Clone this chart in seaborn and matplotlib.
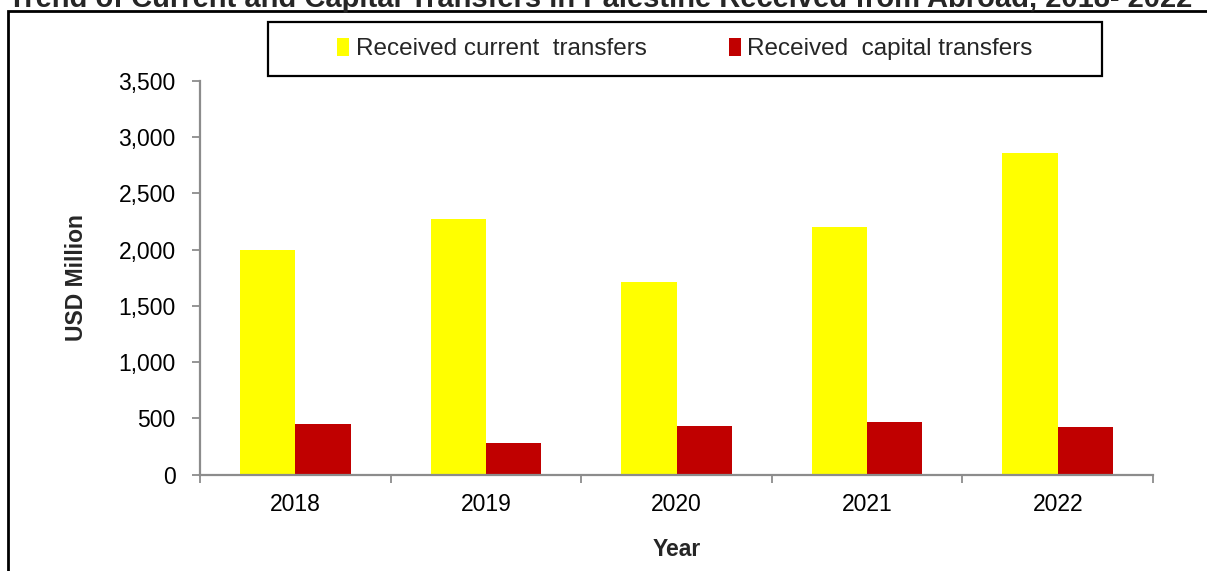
import matplotlib
matplotlib.use("Agg")
import matplotlib.pyplot as plt
from matplotlib.patches import Rectangle, Patch
from matplotlib.ticker import FuncFormatter, FixedLocator
import seaborn as sns
import pandas as pd

years = ["2018", "2019", "2020", "2021", "2022"]
current_transfers = [2000, 2270, 1710, 2200, 2855]
capital_transfers = [450, 284, 432, 468, 421]
series_names = ["Received current  transfers", "Received  capital transfers"]
series_colors = ["#FFFF00", "#C00000"]
title_text = "Trend of Current and Capital Transfers in Palestine Received from Abroad, 2018- 2022"

df = pd.DataFrame({
    "Year": years * 2,
    "Value": current_transfers + capital_transfers,
    "Series": [series_names[0]] * len(years) + [series_names[1]] * len(years),
})

sns.set_theme(style="white")
plt.rcParams["font.family"] = ["Liberation Sans", "DejaVu Sans"]

fig = plt.figure(figsize=(12.07, 5.71), dpi=100)
W, H = 1207, 571
ax = fig.add_axes([200 / W, 1 - 474.7 / H, 953 / W, 394 / H])

sns.barplot(data=df, x="Year", y="Value", hue="Series", hue_order=series_names,
            palette=series_colors, width=0.58, saturation=1, ax=ax, legend=False,
            edgecolor="none", linewidth=0)

ax.set_ylim(0, 3500)
ax.set_xlim(-0.5, len(years) - 0.5)
ax.set_yticks(range(0, 3501, 500))
ax.yaxis.set_major_formatter(FuncFormatter(lambda v, p: f"{int(v):,}"))

grey = "#8C8C8C"
for side in ["top", "right"]:
    ax.spines[side].set_visible(False)
for side in ["left", "bottom"]:
    ax.spines[side].set_color(grey)
    ax.spines[side].set_linewidth(1.6)

ax.tick_params(axis="y", which="major", direction="out", length=5.5, width=1.3,
               color=grey, labelsize=16.5, pad=12, left=True, labelcolor="black")
ax.tick_params(axis="x", which="major", length=0, labelsize=16.5, pad=13, labelcolor="black")
ax.xaxis.set_minor_locator(FixedLocator([i - 0.5 for i in range(len(years) + 1)]))
ax.tick_params(axis="x", which="minor", direction="out", length=5.5, width=1.3,
               color=grey, bottom=True)

ax.set_xlabel("Year", fontsize=16.5, fontweight="bold", labelpad=16)
ax.set_ylabel("USD Million", fontsize=16.5, fontweight="bold", labelpad=22)

# Legend inside a framed box along the top
fig.add_artist(Rectangle((268 / W, 1 - 76 / H), (1102 - 268) / W, (76 - 22) / H,
                         transform=fig.transFigure, facecolor="white",
                         edgecolor="black", linewidth=1.6, zorder=5))
handles = [Patch(facecolor=c, edgecolor="none") for c in series_colors]
fig.legend(handles, series_names, loc="center", bbox_to_anchor=(685 / W, 1 - 49 / H),
           ncol=2, frameon=False, fontsize=17.5, handlelength=0.5, handleheight=0.8,
           handletextpad=0.25, columnspacing=3.4).set_zorder(6)

# Outer frame around the chart area
fig.add_artist(Rectangle((8 / W, -0.2), 1.2, 1.2 - 11 / H,
                         transform=fig.transFigure, facecolor="none",
                         edgecolor="black", linewidth=2, clip_on=False))

fig.text(600 / W, 1 - 7 / H, title_text, ha="center", va="baseline",
         fontsize=21, fontweight="bold")

fig.savefig("out.png", dpi=100)
